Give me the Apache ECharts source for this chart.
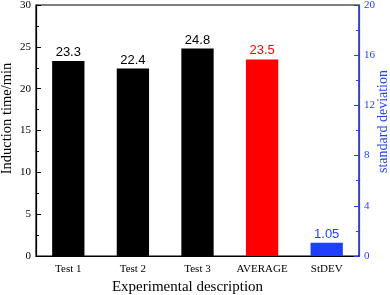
<!DOCTYPE html>
<html><head><meta charset="utf-8">
<script src="https://cdn.jsdelivr.net/npm/echarts@6/dist/echarts.min.js"></script>
<style>html,body{margin:0;padding:0;background:#fff}#c{width:390px;height:295px}</style>
</head><body><div id="c"></div>
<script>
const categories = ['Test 1','Test 2','Test 3','AVERAGE','StDEV'];
const timeValues = [23.3, 22.4, 24.8, 23.5, '-'];
const stdevValues = ['-','-','-','-', 1.05];
const leftTicks = [0,5,10,15,20,25,30];
const rightTicks = [0,4,8,12,16,20];

const BLUE = '#1f3fff';
const serif = 'Liberation Serif';
const chart = echarts.init(document.getElementById('c'));
chart.setOption({
  animation:false,
  grid:{left:36,right:31,top:5,bottom:39,outerBoundsMode:'none',containLabel:false,
    show:true,borderColor:'#000',borderWidth:1.2,backgroundColor:'transparent'},
  xAxis:[{
    type:'category', data:categories,
    name:'Experimental description', nameLocation:'middle', nameGap:24,
    nameTextStyle:{fontFamily:serif,fontSize:15,color:'#000',padding:[0,20,0,0]},
    axisLine:{lineStyle:{color:'#000',width:1.2}},
    axisTick:{alignWithLabel:true,length:4,lineStyle:{color:'#000'}},
    axisLabel:{interval:0,fontFamily:serif,fontSize:11,color:'#000',margin:8}
  }],
  yAxis:[{
    type:'value', min:0, max:30, interval:5,
    name:'Induction time/min', nameLocation:'middle', nameGap:21, nameMoveOverlap:false,
    nameTextStyle:{fontFamily:serif,fontSize:14.5,color:'#000',padding:[0,0,0,24]},
    axisLine:{show:true,lineStyle:{color:'#000',width:1.2}},
    axisTick:{show:true,inside:true,length:5,lineStyle:{color:'#000'}},
    minorTick:{show:true,splitNumber:2,length:3,lineStyle:{color:'#000'}},
    splitLine:{show:false},
    axisLabel:{fontFamily:serif,fontSize:11,color:'#000',margin:5,
      formatter:v=>leftTicks.includes(v)?String(v):''}
  },{
    type:'value', min:0, max:20, interval:4, position:'right',
    name:'standard deviation', nameLocation:'middle', nameGap:17, nameMoveOverlap:false,
    nameTextStyle:{fontFamily:serif,fontSize:14,color:BLUE,padding:[0,0,0,18]},
    axisLine:{show:true,lineStyle:{color:BLUE,width:1.2}},
    axisTick:{show:true,inside:true,length:5,lineStyle:{color:BLUE}},
    minorTick:{show:true,splitNumber:2,length:3,lineStyle:{color:BLUE}},
    splitLine:{show:false},
    axisLabel:{fontFamily:serif,fontSize:11,color:BLUE,margin:5,
      formatter:v=>rightTicks.includes(v)?String(v):''}
  }],
  series:[{
    type:'bar', yAxisIndex:0, barWidth:'50%', barGap:'-100%',
    data:timeValues.map((v,i)=>({value:v,itemStyle:{color:i===3?'#ff0000':'#000'},
      label:{color:i===3?'#ff0000':'#000'}})),
    label:{show:true,position:'top',distance:2,fontFamily:'Liberation Sans',fontSize:13}
  },{
    type:'bar', yAxisIndex:1, barWidth:'50%', barGap:'-100%',
    data:stdevValues,
    itemStyle:{color:BLUE},
    label:{show:true,position:'top',distance:2,fontFamily:'Liberation Sans',fontSize:13,color:BLUE}
  }]
});
</script></body></html>
